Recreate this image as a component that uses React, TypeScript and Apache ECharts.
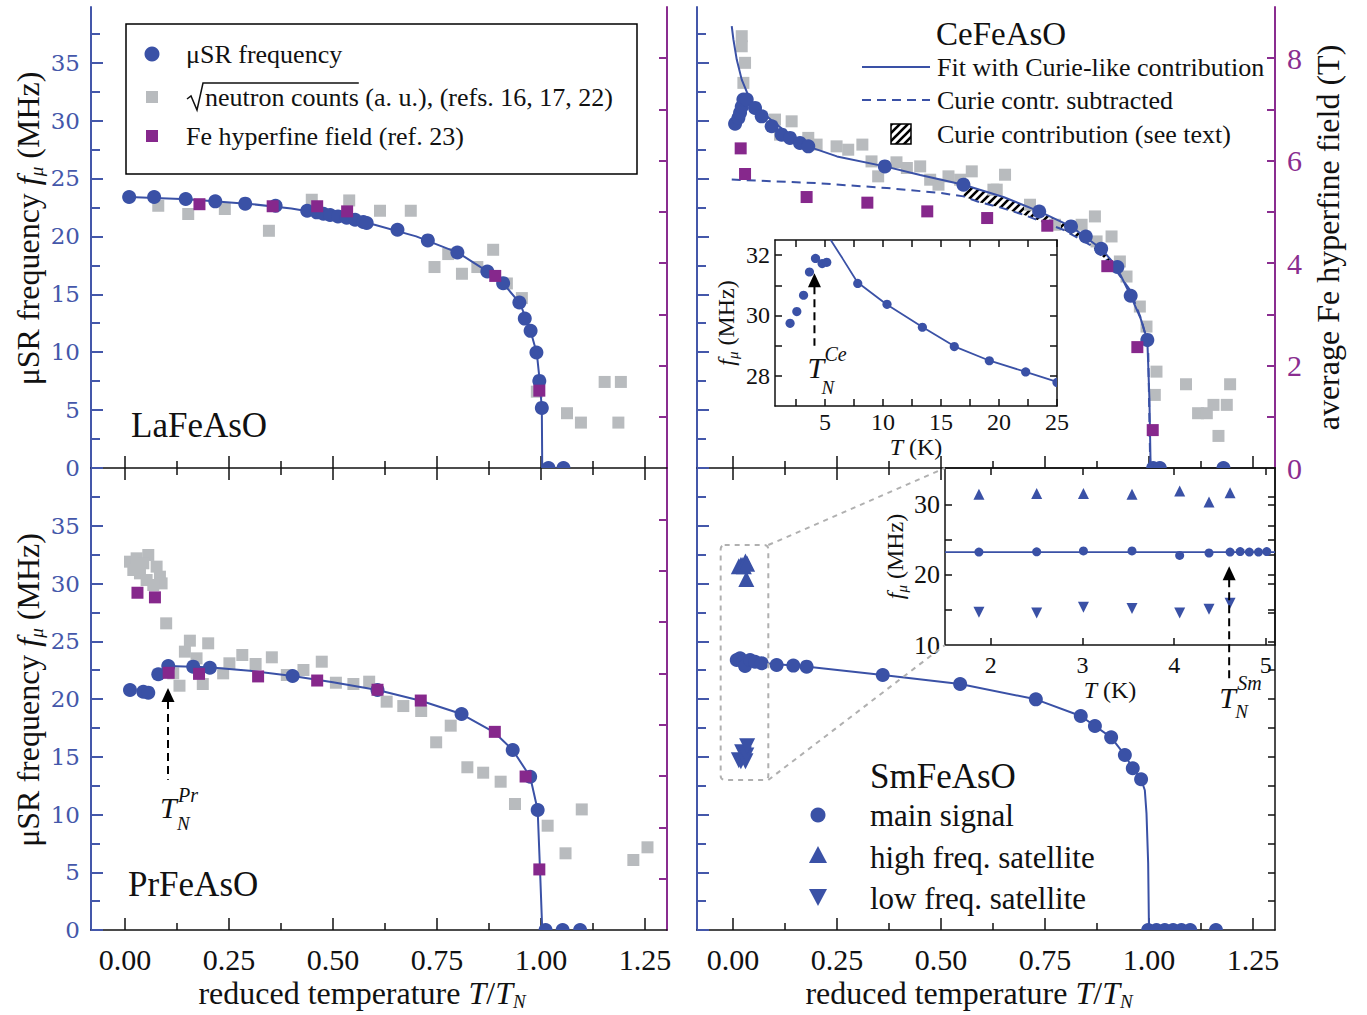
import React, { useEffect, useRef } from 'react';
import * as echarts from 'echarts';

// ---------------- DATA ----------------
// LaFeAsO (top-left)
const laMuX = [0.010, 0.070, 0.146, 0.217, 0.289, 0.362, 0.438, 0.461, 0.477, 0.493, 0.512, 0.533, 0.553, 0.573, 0.581, 0.655, 0.728, 0.799, 0.871, 0.909, 0.948, 0.961, 0.975, 0.989, 0.996, 1.002, 1.018, 1.054];
const laMuY = [23.4, 23.4, 23.22, 23.02, 22.82, 22.64, 22.21, 22.07, 21.95, 21.84, 21.72, 21.61, 21.43, 21.24, 21.15, 20.57, 19.65, 18.61, 16.97, 15.96, 14.29, 12.9, 11.84, 9.97, 7.52, 5.19, 0, 0];
const laFitX = [0.010, 0.15, 0.3, 0.4, 0.5, 0.6, 0.7, 0.8, 0.87, 0.91, 0.95, 0.975, 0.99, 0.997, 1.002, 1.003];
const laFitY = [23.4, 23.2, 22.8, 22.4, 21.8, 21.0, 20.0, 18.6, 17.0, 15.9, 14.2, 11.8, 9.9, 7.5, 5.1, 0];
const laNeuX = [0.080, 0.152, 0.240, 0.346, 0.449, 0.539, 0.613, 0.687, 0.744, 0.777, 0.810, 0.847, 0.885, 0.918, 0.954, 0.990, 1.0625, 1.096, 1.153, 1.192, 1.186];
const laNeuY = [22.64, 21.93, 22.36, 20.48, 23.16, 23.1, 22.21, 22.21, 17.35, 18.47, 16.77, 17.35, 18.84, 15.93, 14.67, 6.59, 4.73, 3.92, 7.43, 7.43, 3.92];
const laFeX = [0.179, 0.355, 0.462, 0.534, 0.890, 0.996];
const laFeT = [5.15, 5.11, 5.11, 5.01, 3.75, 1.51];

// CeFeAsO (top-right)
const ceMuX = [0.005, 0.013, 0.017, 0.021, 0.025, 0.033, 0.053, 0.069, 0.093, 0.117, 0.137, 0.161, 0.181, 0.365, 0.554, 0.736, 0.8125, 0.848, 0.885, 0.924, 0.956, 0.996, 1.010, 1.026, 1.179];
const ceMuY = [29.73, 30.22, 30.66, 31.18, 31.81, 31.81, 31.09, 30.36, 29.5, 28.78, 28.5, 28.06, 27.77, 26.04, 24.46, 22.15, 20.86, 19.99, 18.93, 17.35, 14.87, 11.06, 0, 0, 0];
const ceFitX = [-0.003, 0.001, 0.009, 0.021, 0.041, 0.081, 0.121, 0.185, 0.25, 0.365, 0.45, 0.554, 0.65, 0.736, 0.8125, 0.885, 0.92, 0.956, 0.98, 0.996, 1.001, 1.004];
const ceFitY = [38.15, 37.0, 35.26, 33.53, 31.8, 30.36, 29.2, 27.7, 26.9, 26.04, 25.3, 24.46, 23.4, 22.15, 20.86, 18.93, 17.5, 14.87, 12.9, 11.06, 6.0, 0];
const ceDashX = [-0.003, 0.2, 0.37, 0.5, 0.554, 0.594, 0.642, 0.698, 0.794, 0.858, 0.914, 0.954, 0.982, 0.998, 1.003];
const ceDashY = [24.9, 24.6, 24.17, 23.74, 23.45, 22.93, 22.5, 21.87, 20.57, 19.27, 17.4, 15.38, 12.79, 10.48, 0];
const ceNeuX = [0.021, 0.021, 0.029, 0.025, 0.101, 0.141, 0.113, 0.181, 0.201, 0.249, 0.277, 0.311, 0.333, 0.349, 0.393, 0.418, 0.45, 0.474, 0.494, 0.518, 0.546, 0.574, 0.626, 0.654, 0.634, 0.714, 0.774, 0.838, 0.87, 0.874, 0.91, 0.93, 0.946, 0.978, 0.994, 1.018, 1.014, 1.089, 1.118, 1.139, 1.155, 1.187, 1.195, 1.167];
const ceNeuY = [37.28, 36.41, 34.98, 33.25, 30.08, 29.93, 28.78, 28.5, 27.92, 27.77, 27.48, 27.92, 26.47, 25.18, 26.39, 25.9, 26.04, 24.89, 24.46, 25.18, 24.89, 25.61, 24.03, 25.32, 24.03, 22.73, 21.0, 21.0, 21.72, 19.56, 19.99, 17.83, 16.53, 13.94, 12.21, 8.32, 6.31, 7.23, 4.73, 4.73, 5.45, 5.45, 7.23, 2.77];
const ceFeX = [0.0185, 0.029, 0.177, 0.323, 0.467, 0.611, 0.7555, 0.8998, 0.972, 1.009];
const ceFeT = [6.24, 5.74, 5.29, 5.18, 5.01, 4.88, 4.73, 3.94, 2.36, 0.74];
const hatchRange = [0.55, 0.93];

// CeFeAsO inset (T in K)
const ceInK = [2.0, 2.58, 3.16, 3.67, 4.19, 4.76, 5.16, 7.83, 10.35, 13.4, 16.15, 19.17, 22.3, 25.0];
const ceInF = [29.74, 30.13, 30.67, 31.44, 31.89, 31.72, 31.76, 31.06, 30.37, 29.61, 28.97, 28.5, 28.13, 27.78];
const ceInFitK = [5.5, 6.5, 7.8, 10.3, 13.4, 16.2, 19.2, 22.3, 25.0];
const ceInFitF = [32.5, 31.9, 31.1, 30.37, 29.62, 28.97, 28.5, 28.13, 27.8];
const ceArrow = { x: 4.1, from: 29.0, to: 31.4 };

// PrFeAsO (bottom-left)
const prMuX = [0.012, 0.044, 0.056, 0.08, 0.104, 0.164, 0.204, 0.403, 0.607, 0.809, 0.932, 0.974, 0.992, 1.011, 1.052, 1.094];
const prMuY = [20.78, 20.63, 20.55, 22.14, 22.86, 22.8, 22.71, 21.99, 20.78, 18.7, 15.58, 13.27, 10.39, 0, 0, 0];
const prFitX = [0.104, 0.2, 0.3, 0.403, 0.5, 0.607, 0.711, 0.809, 0.889, 0.932, 0.974, 0.992, 0.998, 1.003];
const prFitY = [22.86, 22.75, 22.45, 21.99, 21.45, 20.78, 19.85, 18.7, 17.08, 15.58, 13.27, 10.39, 4.9, 0];
const prNeuX = [0.012, 0.028, 0.056, 0.02, 0.044, 0.076, 0.036, 0.084, 0.052, 0.088, 0.068, 0.099, 0.156, 0.2, 0.144, 0.172, 0.251, 0.282, 0.353, 0.314, 0.236, 0.116, 0.131, 0.187, 0.389, 0.429, 0.473, 0.507, 0.549, 0.587, 0.629, 0.669, 0.712, 0.783, 0.748, 0.823, 0.861, 0.903, 0.9375, 1.016, 1.059, 1.098, 1.222, 1.256];
const prNeuY = [31.89, 32.18, 32.47, 31.17, 31.75, 31.46, 30.88, 30.59, 30.3, 30.01, 29.87, 26.55, 25.05, 24.82, 24.1, 23.52, 23.09, 23.81, 23.61, 23.03, 22.22, 22.22, 21.15, 21.3, 22.08, 22.51, 23.23, 21.41, 21.3, 21.5, 19.77, 19.39, 18.96, 17.69, 16.25, 14.09, 13.62, 12.84, 10.91, 9.03, 6.64, 10.44, 6.06, 7.16];
const prFeX = [0.03, 0.072, 0.105, 0.178, 0.32, 0.462, 0.607, 0.711, 0.889, 0.963, 0.996];
const prFeT = [6.57, 6.48, 5.01, 4.99, 4.94, 4.86, 4.68, 4.47, 3.86, 2.99, 1.18];
const prArrow = { x: 0.1034, from: 13.0, to: 20.95 };

// SmFeAsO (bottom-right)
const smMuX = [0.009, 0.017, 0.025, 0.029, 0.041, 0.053, 0.069, 0.105, 0.145, 0.177, 0.36, 0.546, 0.728, 0.836, 0.870, 0.909, 0.942, 0.961, 0.981, 0.998, 1.018, 1.038, 1.058, 1.078, 1.099, 1.161];
const smMuY = [23.38, 23.52, 23.23, 22.86, 23.38, 23.23, 23.09, 22.94, 22.89, 22.8, 22.08, 21.3, 19.97, 18.53, 17.66, 16.68, 15.15, 14.0, 13.05, 0, 0, 0, 0, 0, 0, 0];
const smFitX = [0.005, 0.18, 0.36, 0.546, 0.728, 0.836, 0.909, 0.942, 0.961, 0.981, 0.99, 0.994, 0.998, 1.0];
const smFitY = [23.3, 22.8, 22.08, 21.3, 19.97, 18.53, 16.68, 15.15, 14.0, 13.05, 12.1, 10.1, 5.8, 0];
const smSatX = [0.014, 0.019, 0.022, 0.026, 0.030, 0.032, 0.034];
const smHighY = [31.5, 31.6, 31.6, 31.5, 31.9, 30.4, 31.7];
const smLowY = [14.7, 14.6, 15.4, 15.2, 14.6, 15.1, 15.9];
const smZoomBox = { x0: -0.0296, x1: 0.0849, y0: 12.99, y1: 33.33 };

// SmFeAsO inset (T in K)
const smInK = [1.87, 2.5, 3.01, 3.54, 4.06, 4.38, 4.61, 4.72, 4.82, 4.92, 5.01];
const smInF = [23.23, 23.26, 23.4, 23.4, 22.76, 23.1, 23.23, 23.3, 23.23, 23.23, 23.3];
const smInSatK = [1.87, 2.5, 3.01, 3.54, 4.06, 4.38, 4.61];
const smInHighF = [31.47, 31.57, 31.57, 31.47, 31.94, 30.37, 31.66];
const smInLowF = [14.66, 14.56, 15.37, 15.2, 14.56, 15.08, 15.94];
const smInFitK = [1.5, 5.1];
const smInFitF = [23.23, 23.23];
const smArrow = { x: 4.6, from: 4.73, to: 21.2 };

// ticks / labels
const xMajorTicks = [0, 0.25, 0.5, 0.75, 1.0, 1.25];
const xMinorTicks = [0.125, 0.375, 0.625, 0.875, 1.125];
const smTopMajor = [0, 0.25, 0.5];
const smTopMinor = [0.125, 0.375];
const fMajorTicks = [0, 5, 10, 15, 20, 25, 30, 35];
const fMinorTicks = [2.5, 7.5, 12.5, 17.5, 22.5, 27.5, 32.5, 37.5];
const fAllTicks = [2.5, 5, 7.5, 10, 12.5, 15, 17.5, 20, 22.5, 25, 27.5, 30, 32.5, 35, 37.5];
const bTicks = [1, 2, 3, 4, 5, 6, 7, 8];
const bLabels = [0, 2, 4, 6, 8];
const ceInXTicks = [2.5, 5, 7.5, 10, 12.5, 15, 17.5, 20, 22.5, 25];
const ceInXLabels = [5, 10, 15, 20, 25];
const ceInYTicks = [28, 29, 30, 31, 32];
const ceInYLabels = [28, 30, 32];
const smInXTicks = [2, 3, 4, 5];
const smInYTicks = [15, 20, 25, 30];
const smInYLabels = [10, 20, 30];

// ---------------- STYLE ----------------
const FONT = "'Liberation Serif', 'Times New Roman', serif";
const BLUE = '#3a51a6';
const BLUE_AX = '#4457aa';
const PURPLE = '#86288c';
const PURPLE_AX = '#8a2d90';
const GRAY = '#b8bbbe';
const BLK = '#111';

const hatchSvg = '<svg xmlns="http://www.w3.org/2000/svg" width="8" height="8"><path d="M-2,2 L2,-2 M0,8 L8,0 M6,10 L10,6" stroke="black" stroke-width="2.6"/></svg>';
const hatchPattern: any = { image: 'data:image/svg+xml;charset=utf-8,' + encodeURIComponent(hatchSvg), repeat: 'repeat', imageWidth: 8, imageHeight: 8 };

const zip = (xs: number[], ys: number[]) => xs.map((x, i) => [x, ys[i]]);

const richSub = (size: number, sub: number) => ({
  i: { fontStyle: 'italic', fontFamily: FONT, fontSize: size, color: BLK, lineHeight: size + 4 },
  s: { fontStyle: 'italic', fontFamily: FONT, fontSize: sub, color: BLK, verticalAlign: 'bottom', lineHeight: sub },
});

function addAxis(list: any[], cfg: any) {
  const axisLine = { show: true, ...(cfg.axisLine || {}), onZero: false };
  list.push({ type: 'value', splitLine: { show: false }, ...cfg, axisLine });
  return list.length - 1;
}

function mainPanel(X: any[], Y: any[], g: number, xmin: number, xmax: number, fmax: number, o: any) {
  const ls = { color: BLK, width: 1.5 };
  const xName = o.xLabels ? {
    name: 'reduced temperature {i|T}/{i|T}{s|N}', nameLocation: 'middle', nameGap: 44,
    nameTextStyle: { fontFamily: FONT, fontSize: 32, color: BLK, lineHeight: 36, padding: [0, 34, 0, 0], rich: richSub(32, 19) },
  } : {};
  const x = addAxis(X, {
    gridIndex: g, min: xmin, max: xmax, position: 'bottom',
    axisLine: { show: true, lineStyle: ls },
    axisTick: { show: true, inside: true, length: 12, customValues: xMajorTicks, lineStyle: ls },
    axisLabel: { show: !!o.xLabels, customValues: xMajorTicks, formatter: (v: number) => Number(v).toFixed(2), fontFamily: FONT, fontSize: 30, color: BLK, margin: 14 },
    ...xName,
  });
  addAxis(X, {
    gridIndex: g, min: xmin, max: xmax, position: 'bottom',
    axisLine: { show: false }, axisTick: { show: true, inside: true, length: 7, customValues: xMinorTicks, lineStyle: ls }, axisLabel: { show: false },
  });
  if (o.top) {
    addAxis(X, {
      gridIndex: g, min: xmin, max: xmax, position: 'top',
      axisLine: { show: false }, axisTick: { show: true, inside: true, length: 12, customValues: o.top[0], lineStyle: ls }, axisLabel: { show: false },
    });
    addAxis(X, {
      gridIndex: g, min: xmin, max: xmax, position: 'top',
      axisLine: { show: false }, axisTick: { show: true, inside: true, length: 7, customValues: o.top[1], lineStyle: ls }, axisLabel: { show: false },
    });
  }
  const bls = { color: BLUE_AX, width: 2 };
  const yName = o.yLabels ? {
    name: '\u03bcSR frequency {i|f}{s|\u03bc} (MHz)', nameLocation: 'middle', nameGap: 45, nameRotate: 90,
    nameTextStyle: { fontFamily: FONT, fontSize: 32, color: BLK, lineHeight: 36, padding: [0, 0, 0, 18], rich: richSub(32, 19) },
  } : {};
  const yl = addAxis(Y, {
    gridIndex: g, min: 0, max: fmax, position: 'left',
    axisLine: { show: true, lineStyle: bls },
    axisTick: { show: true, inside: true, length: 12, customValues: fMajorTicks, lineStyle: bls },
    axisLabel: { show: !!o.yLabels, customValues: fMajorTicks, fontFamily: "'DejaVu Serif', serif", fontSize: 23, color: BLUE_AX, margin: 11 },
    ...yName,
  });
  addAxis(Y, {
    gridIndex: g, min: 0, max: fmax, position: 'left',
    axisLine: { show: false }, axisTick: { show: true, inside: true, length: 9, customValues: fMinorTicks, lineStyle: bls }, axisLabel: { show: false },
  });
  let yr: number;
  if (o.right === 'black') {
    yr = addAxis(Y, {
      gridIndex: g, min: 0, max: fmax, position: 'right',
      axisLine: { show: true, lineStyle: ls },
      axisTick: { show: true, inside: true, length: 7, customValues: fAllTicks, lineStyle: ls }, axisLabel: { show: false },
    });
  } else {
    const pls = { color: PURPLE_AX, width: 2 };
    const rName = o.rightLabels ? {
      name: 'average Fe hyperfine field (T)', nameLocation: 'middle', nameGap: 37, nameRotate: 90,
      nameTextStyle: { fontFamily: FONT, fontSize: 32, color: BLK },
    } : {};
    yr = addAxis(Y, {
      gridIndex: g, min: 0, max: 9, position: 'right',
      axisLine: { show: true, lineStyle: pls },
      axisTick: { show: true, inside: true, length: 8, customValues: bTicks, lineStyle: pls },
      axisLabel: { show: !!o.rightLabels, customValues: bLabels, fontFamily: FONT, fontSize: 30, color: PURPLE_AX, margin: 12 },
      ...rName,
    });
  }
  return { x, yl, yr };
}

function insetAxes(X: any[], Y: any[], g: number, xr: number[], yr: number[], o: any) {
  const ls = { color: BLK, width: 1.5 };
  const x = addAxis(X, {
    gridIndex: g, min: xr[0], max: xr[1], position: 'bottom',
    axisLine: { show: true, lineStyle: ls },
    axisTick: { show: true, inside: true, length: 7, customValues: o.xTicks, lineStyle: ls },
    axisLabel: { customValues: o.xLabels, fontFamily: FONT, fontSize: 24, color: BLK, margin: o.xMargin },
    name: '{i|T} (K)', nameLocation: 'middle', nameGap: o.xGap,
    nameTextStyle: { fontFamily: FONT, fontSize: 24, color: BLK, rich: { i: { fontStyle: 'italic', fontFamily: FONT, fontSize: 24, color: BLK } } },
  });
  addAxis(X, {
    gridIndex: g, min: xr[0], max: xr[1], position: 'top',
    axisLine: { show: true, lineStyle: ls },
    axisTick: { show: true, inside: true, length: 7, customValues: o.xTicks, lineStyle: ls }, axisLabel: { show: false },
  });
  const y = addAxis(Y, {
    gridIndex: g, min: yr[0], max: yr[1], position: 'left',
    axisLine: { show: true, lineStyle: ls },
    axisTick: { show: true, inside: true, length: 7, customValues: o.yTicks, lineStyle: ls },
    axisLabel: { customValues: o.yLabels, fontFamily: FONT, fontSize: o.yFont, color: BLK, margin: 5 },
    name: '{i|f}{s|\u03bc} (MHz)', nameLocation: 'middle', nameGap: o.yGap, nameRotate: 90,
    nameTextStyle: { fontFamily: FONT, fontSize: 24, color: BLK, lineHeight: 28, rich: richSub(24, 15) },
  });
  addAxis(Y, {
    gridIndex: g, min: yr[0], max: yr[1], position: 'right',
    axisLine: { show: true, lineStyle: ls },
    axisTick: { show: true, inside: true, length: 7, customValues: o.yTicks, lineStyle: ls }, axisLabel: { show: false },
  });
  return { x, y };
}

function lineS(xs: number[], ys: number[], xi: number, yi: number, dashed = false, width = 2) {
  return {
    type: 'line', xAxisIndex: xi, yAxisIndex: yi, data: zip(xs, ys), showSymbol: false, symbol: 'none', silent: true,
    lineStyle: { color: BLUE, width, type: dashed ? [9, 6] : 'solid' }, z: 3,
  };
}
function scatS(xs: number[], ys: number[], xi: number, yi: number, symbol: string, size: number, color: string, rot = 0, z = 4) {
  return {
    type: 'scatter', xAxisIndex: xi, yAxisIndex: yi, data: zip(xs, ys), symbol, symbolSize: size, symbolRotate: rot, silent: true,
    itemStyle: { color, opacity: 1 }, z,
  };
}
function circS(xs: number[], ys: number[], xi: number, yi: number, r: number) {
  return {
    type: 'custom', xAxisIndex: xi, yAxisIndex: yi, clip: true, silent: true, z: 4,
    data: zip(xs, ys),
    renderItem: (_p: any, api: any) => {
      const p = api.coord([api.value(0), api.value(1)]);
      return { type: 'circle', shape: { cx: p[0], cy: p[1], r }, style: { fill: BLUE } };
    },
  };
}

function buildOption() {
  const X: any[] = [];
  const Y: any[] = [];
  const grid = [
    { left: 91, top: 7, width: 576, height: 461 },
    { left: 697, top: 7, width: 578, height: 461 },
    { left: 91, top: 468, width: 576, height: 462 },
    { left: 697, top: 468, width: 578, height: 462 },
    { left: 775, top: 240, width: 282, height: 166, show: true, backgroundColor: '#fff', borderWidth: 0 },
    { left: 945, top: 468, width: 330, height: 177, show: true, backgroundColor: '#fff', borderWidth: 0 },
  ].map((g: any) => ({ containLabel: false, outerBoundsMode: 'none', ...g }));

  const P0 = mainPanel(X, Y, 0, -0.0817, 1.3029, 39.8, { yLabels: true });
  const P1 = mainPanel(X, Y, 1, -0.0865, 1.3029, 39.8, { rightLabels: true });
  const P2 = mainPanel(X, Y, 2, -0.0817, 1.3029, 40, { xLabels: true, yLabels: true, top: [xMajorTicks, xMinorTicks] });
  const P3 = mainPanel(X, Y, 3, -0.0865, 1.3029, 40, { xLabels: true, right: 'black', top: [smTopMajor, smTopMinor] });
  const I4 = insetAxes(X, Y, 4, [0.7, 25], [27, 32.5], { xTicks: ceInXTicks, xLabels: ceInXLabels, yTicks: ceInYTicks, yLabels: ceInYLabels, xMargin: 4, xGap: 22, yGap: 35, yFont: 24 });
  const I5 = insetAxes(X, Y, 5, [1.5, 5.1], [10, 35.2], { xTicks: smInXTicks, xLabels: smInXTicks, yTicks: smInYTicks, yLabels: smInYLabels, xMargin: 8, xGap: 29, yGap: 36, yFont: 26 });

  const hatchSeries = {
    type: 'custom', xAxisIndex: P1.x, yAxisIndex: P1.yl, clip: true, silent: true, z: 2,
    data: [[0, 0]],
    renderItem: (_p: any, api: any) => {
      const inR = (p: number[]) => p[0] >= hatchRange[0] && p[0] <= hatchRange[1];
      const up = zip(ceFitX, ceFitY).filter(inR);
      const lo = zip(ceDashX, ceDashY).filter(inR).reverse();
      const points = [...up, ...lo].map((p) => api.coord(p));
      return { type: 'polygon', shape: { points }, style: { fill: hatchPattern, stroke: 'none' } };
    },
  };

  const series: any[] = [
    // La
    scatS(laNeuX, laNeuY, P0.x, P0.yl, 'rect', 12, GRAY, 0, 2),
    lineS(laFitX, laFitY, P0.x, P0.yl),
    circS(laMuX, laMuY, P0.x, P0.yl, 7),
    scatS(laFeX, laFeT, P0.x, P0.yr, 'rect', 12, PURPLE, 0, 5),
    // Ce
    scatS(ceNeuX, ceNeuY, P1.x, P1.yl, 'rect', 12, GRAY, 0, 2),
    hatchSeries,
    lineS(ceDashX, ceDashY, P1.x, P1.yl, true),
    lineS(ceFitX, ceFitY, P1.x, P1.yl),
    circS(ceMuX, ceMuY, P1.x, P1.yl, 7),
    scatS(ceFeX, ceFeT, P1.x, P1.yr, 'rect', 12, PURPLE, 0, 5),
    // Ce inset
    lineS(ceInFitK, ceInFitF, I4.x, I4.y, false, 1.8),
    circS(ceInK, ceInF, I4.x, I4.y, 4.6),
    // Pr
    scatS(prNeuX, prNeuY, P2.x, P2.yl, 'rect', 12, GRAY, 0, 2),
    lineS(prFitX, prFitY, P2.x, P2.yl),
    circS(prMuX, prMuY, P2.x, P2.yl, 7),
    scatS(prFeX, prFeT, P2.x, P2.yr, 'rect', 12, PURPLE, 0, 5),
    // Sm
    lineS(smFitX, smFitY, P3.x, P3.yl),
    scatS(smSatX, smHighY, P3.x, P3.yl, 'triangle', 16, BLUE, 0, 4),
    scatS(smSatX, smLowY, P3.x, P3.yl, 'triangle', 16, BLUE, 180, 4),
    circS(smMuX, smMuY, P3.x, P3.yl, 7),
    // Sm inset
    lineS(smInFitK, smInFitF, I5.x, I5.y, false, 1.8),
    circS(smInK, smInF, I5.x, I5.y, 4.5),
    scatS(smInSatK, smInHighF, I5.x, I5.y, 'triangle', 11, BLUE, 0, 4),
    scatS(smInSatK, smInLowF, I5.x, I5.y, 'triangle', 11, BLUE, 180, 4),
  ];

  return {
    option: { animation: false, backgroundColor: '#fff', grid, xAxis: X, yAxis: Y, series },
    idx: { P0, P1, P2, P3, I4, I5 },
  };
}

function buildGraphic(chart: any, I: any) {
  const px = (a: any, yi: number, x: number, y: number) => chart.convertToPixel({ xAxisIndex: a.x, yAxisIndex: yi }, [x, y]) as number[];
  const g: any[] = [];
  const T = (x: number, y: number, text: string, size: number, extra: any = {}) => ({
    type: 'text', x, y, z: 50, silent: true,
    style: { text, fontFamily: FONT, fontSize: size, fill: BLK, align: 'left', verticalAlign: 'middle', ...extra },
  });
  const arrow = (ax: number, tip: number, bottom: number) => [
    { type: 'line', z: 50, silent: true, shape: { x1: ax, y1: tip + 13, x2: ax, y2: bottom }, style: { stroke: '#000', lineWidth: 2, lineDash: [8, 5] } },
    { type: 'polygon', z: 50, silent: true, shape: { points: [[ax, tip], [ax - 6.5, tip + 14], [ax + 6.5, tip + 14]] }, style: { fill: '#000' } },
  ];
  const tn = (ax: number, yb: number, sup: string, d: number[]) => [
    T(ax + d[0], yb + d[1], 'T', 30, { fontStyle: 'italic' }),
    T(ax + d[2], yb + d[3], sup, 20, { fontStyle: 'italic' }),
    T(ax + d[4], yb + d[5], 'N', 19, { fontStyle: 'italic' }),
  ];

  // --- top-left legend ---
  g.push({ type: 'rect', z: 40, silent: true, shape: { x: 126, y: 24, width: 511, height: 150 }, style: { fill: '#fff', stroke: '#000', lineWidth: 1.5 } });
  g.push({ type: 'circle', z: 50, silent: true, shape: { cx: 152, cy: 54, r: 7.5 }, style: { fill: BLUE } });
  g.push(T(186, 54, '\u03bcSR frequency', 26));
  g.push({ type: 'rect', z: 50, silent: true, shape: { x: 146, y: 91, width: 12, height: 12 }, style: { fill: GRAY } });
  const ctx = document.createElement('canvas').getContext('2d')!;
  ctx.font = "26px 'Liberation Serif'";
  const w = ctx.measureText('neutron counts').width;
  g.push({ type: 'polyline', z: 50, silent: true, shape: { points: [[187, 99], [191, 96], [197, 110], [203, 83], [205 + w, 83]] }, style: { stroke: BLK, lineWidth: 1.5, fill: 'none' } });
  g.push(T(205, 97, 'neutron counts (a. u.), (refs. 16, 17, 22)', 26));
  g.push({ type: 'rect', z: 50, silent: true, shape: { x: 146, y: 130, width: 12, height: 12 }, style: { fill: PURPLE } });
  g.push(T(186, 136, 'Fe hyperfine field (ref. 23)', 26));

  // --- panel labels ---
  g.push(T(131, 425, 'LaFeAsO', 35));
  g.push(T(128, 884, 'PrFeAsO', 35));

  // --- top-right legend ---
  g.push(T(936, 34, 'CeFeAsO', 33));
  g.push({ type: 'line', z: 50, silent: true, shape: { x1: 862, y1: 67, x2: 930, y2: 67 }, style: { stroke: BLUE, lineWidth: 2 } });
  g.push(T(937, 67, 'Fit with Curie-like contribution', 26));
  g.push({ type: 'line', z: 50, silent: true, shape: { x1: 862, y1: 100, x2: 930, y2: 100 }, style: { stroke: BLUE, lineWidth: 2, lineDash: [9, 6] } });
  g.push(T(937, 100, 'Curie contr. subtracted', 26));
  g.push({ type: 'rect', z: 50, silent: true, shape: { x: 891, y: 124, width: 20, height: 20 }, style: { fill: hatchPattern, stroke: '#000', lineWidth: 1.5 } });
  g.push(T(937, 134, 'Curie contribution (see text)', 26));

  // --- bottom-right legend ---
  g.push(T(870, 776, 'SmFeAsO', 35));
  g.push({ type: 'circle', z: 50, silent: true, shape: { cx: 818, cy: 815, r: 7.5 }, style: { fill: BLUE } });
  g.push(T(870, 815, 'main signal', 31));
  g.push({ type: 'polygon', z: 50, silent: true, shape: { points: [[818, 846], [809, 863], [827, 863]] }, style: { fill: BLUE } });
  g.push(T(870, 857, 'high freq. satellite', 31));
  g.push({ type: 'polygon', z: 50, silent: true, shape: { points: [[818, 906], [809, 889], [827, 889]] }, style: { fill: BLUE } });
  g.push(T(870, 898, 'low freq. satellite', 31));

  // --- zoom box in Sm panel ---
  const b0 = px(I.P3, I.P3.yl, smZoomBox.x0, smZoomBox.y1);
  const b1 = px(I.P3, I.P3.yl, smZoomBox.x1, smZoomBox.y0);
  const insTL = px(I.I5, I.I5.y, 1.5, 35.2);
  const insBL = px(I.I5, I.I5.y, 1.5, 10);
  const dash = { stroke: '#b0b0b0', lineWidth: 2, lineDash: [5, 5], fill: 'none' };
  g.push({ type: 'rect', z: 30, silent: true, shape: { x: b0[0], y: b0[1], width: b1[0] - b0[0], height: b1[1] - b0[1], r: 4 }, style: dash });
  g.push({ type: 'line', z: 30, silent: true, shape: { x1: b1[0], y1: b0[1], x2: insTL[0], y2: insTL[1] }, style: dash });
  g.push({ type: 'line', z: 30, silent: true, shape: { x1: b1[0], y1: b1[1], x2: insBL[0], y2: insBL[1] }, style: dash });

  // --- arrows + T_N labels ---
  const ceB = px(I.I4, I.I4.y, ceArrow.x, ceArrow.from);
  const ceT = px(I.I4, I.I4.y, ceArrow.x, ceArrow.to);
  g.push(...arrow(ceB[0], ceT[1], ceB[1]));
  g.push(...tn(ceB[0], ceB[1], 'Ce', [-7, 22, 10, 8, 7, 42]));

  const prB = px(I.P2, I.P2.yl, prArrow.x, prArrow.from);
  const prT = px(I.P2, I.P2.yl, prArrow.x, prArrow.to);
  g.push(...arrow(prB[0], prT[1], prB[1]));
  g.push(...tn(prB[0], prB[1], 'Pr', [-8, 28, 10, 15, 9, 44]));

  const smB = px(I.I5, I.I5.y, smArrow.x, smArrow.from);
  const smT = px(I.I5, I.I5.y, smArrow.x, smArrow.to);
  g.push(...arrow(smB[0], smT[1], smB[1]));
  g.push(...tn(smB[0], smB[1], 'Sm', [-10, 15, 8, 1, 6, 29]));

  return g;
}

export default function App() {
  const ref = useRef<HTMLDivElement>(null);
  useEffect(() => {
    const chart = echarts.init(ref.current!, null, { renderer: 'svg' });
    const { option, idx } = buildOption();
    chart.setOption(option as any);
    chart.setOption({ graphic: buildGraphic(chart, idx) } as any);
    return () => chart.dispose();
  }, []);
  return <div ref={ref} style={{ position: 'absolute', left: 0, top: 0, width: 1367, height: 1015, background: '#fff' }} />;
}
